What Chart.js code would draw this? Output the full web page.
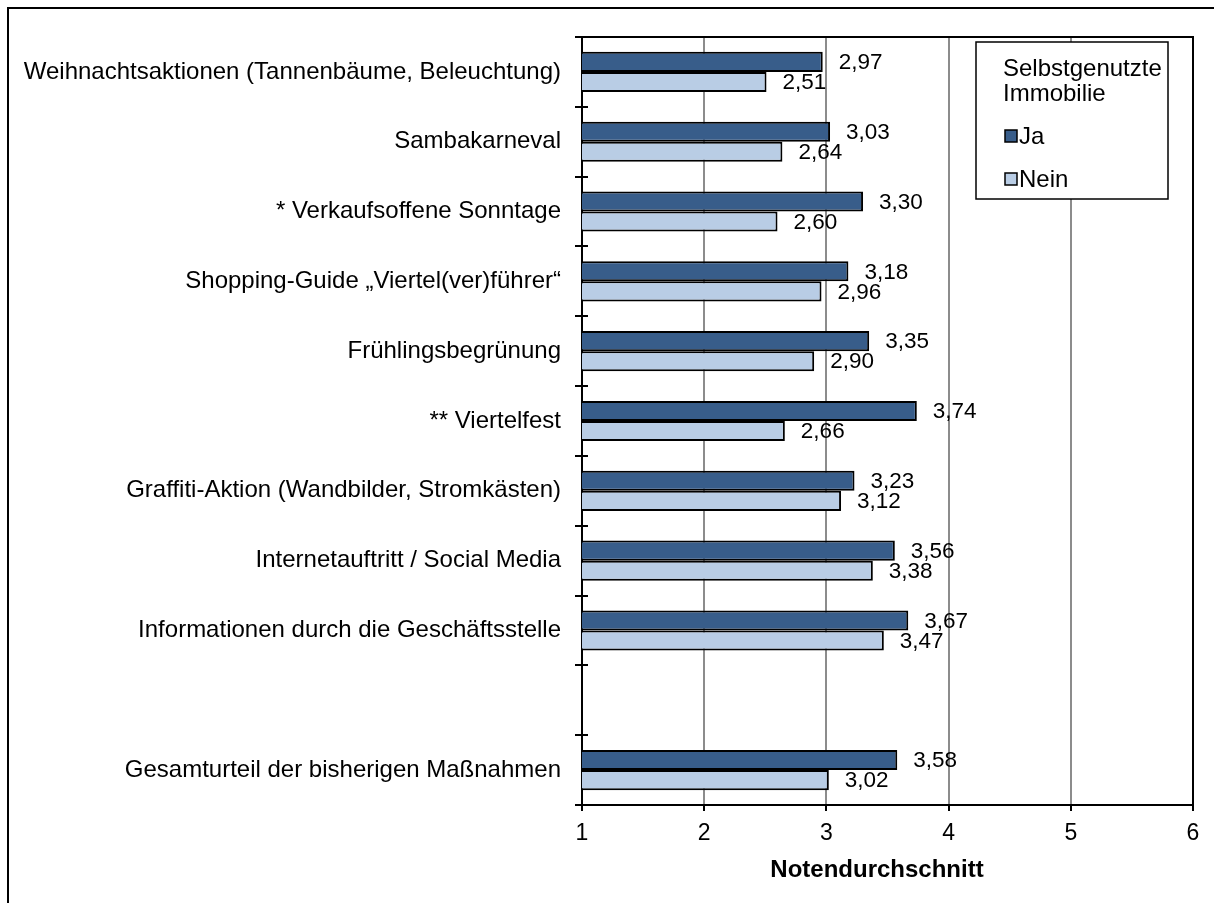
<!DOCTYPE html>
<html>
<head>
<meta charset="utf-8">
<script src="https://cdn.jsdelivr.net/npm/chart.js@4.4.1/dist/chart.umd.min.js"></script>
<style>
  html, body { margin: 0; padding: 0; background: #fff; }
  #wrap { position: relative; width: 1214px; height: 903px; }
  #frame { position: absolute; left: 7px; top: 7px; width: 1220px; height: 910px; border: 2px solid #000; box-sizing: border-box; pointer-events: none; }
  canvas { position: absolute; left: 0; top: 0; }
</style>
</head>
<body>
<div id="wrap">
  <canvas id="myChart" width="1214" height="903"></canvas>
  <div id="frame"></div>
</div>
<script>
// Kategorien (leerer Platz vor dem Gesamturteil)
const categories = [
    'Weihnachtsaktionen (Tannenbäume, Beleuchtung)',
    'Sambakarneval',
    '* Verkaufsoffene Sonntage',
    'Shopping-Guide \u201EViertel(ver)führer\u201C',
    'Frühlingsbegrünung',
    '** Viertelfest',
    'Graffiti-Aktion (Wandbilder, Stromkästen)',
    'Internetauftritt / Social Media',
    'Informationen durch die Geschäftsstelle',
    '',
    'Gesamturteil der bisherigen Maßnahmen'
];
const jaValues   = [2.97, 3.03, 3.30, 3.18, 3.35, 3.74, 3.23, 3.56, 3.67, null, 3.58];
const neinValues = [2.51, 2.64, 2.60, 2.96, 2.90, 2.66, 3.12, 3.38, 3.47, null, 3.02];
const xTicks = [1, 2, 3, 4, 5, 6];
const legendTitle = ['Selbstgenutzte', 'Immobilie'];
const xTitle = 'Notendurchschnitt';

const fontFamily = '"Liberation Sans", Arial, sans-serif';

// Werte rechts neben den Balken (mit Komma)
const valueLabels = {
    id: 'valueLabels',
    afterDatasetsDraw(chart) {
        const ctx = chart.ctx;
        ctx.save();
        ctx.font = '22.5px ' + fontFamily;
        ctx.fillStyle = '#000';
        ctx.textBaseline = 'middle';
        ctx.textAlign = 'left';
        chart.data.datasets.forEach((ds, i) => {
            chart.getDatasetMeta(i).data.forEach((bar, j) => {
                const v = ds.data[j];
                if (v == null) return;
                ctx.fillText(v.toFixed(2).replace('.', ','), bar.x + 16, bar.y + 1);
            });
        });
        ctx.restore();
    }
};

// Rahmen der Zeichenfläche, Achsentitel + Legende im Diagramm
const plotFrame = {
    id: 'plotFrame',
    afterDraw(chart) {
        const ctx = chart.ctx;
        const a = chart.chartArea;
        ctx.save();
        ctx.strokeStyle = '#000';
        ctx.lineWidth = 2;
        ctx.beginPath();
        ctx.moveTo(a.left, a.top);
        ctx.lineTo(a.right, a.top);
        ctx.lineTo(a.right, a.bottom);
        ctx.stroke();

        // kleine Striche der y-Achse ragen auch ins Diagramm
        const yScale = chart.scales.y;
        ctx.beginPath();
        for (let k = 0; k <= categories.length; k++) {
            const y = Math.round(yScale.top + k * (yScale.bottom - yScale.top) / categories.length);
            ctx.moveTo(a.left, y);
            ctx.lineTo(a.left + 6, y);
        }
        ctx.stroke();

        // Achsentitel
        ctx.fillStyle = '#000';
        ctx.font = 'bold 24px ' + fontFamily;
        ctx.textAlign = 'center';
        ctx.textBaseline = 'middle';
        ctx.fillText(xTitle, 877, 870);

        // Legende
        const lx = 976, ly = 42, lw = 192, lh = 157;
        ctx.fillStyle = '#fff';
        ctx.fillRect(lx, ly, lw, lh);
        ctx.lineWidth = 1.5;
        ctx.strokeRect(lx, ly, lw, lh);
        ctx.fillStyle = '#000';
        ctx.font = '24px ' + fontFamily;
        ctx.textAlign = 'left';
        ctx.fillText(legendTitle[0], lx + 27, ly + 27);
        ctx.fillText(legendTitle[1], lx + 27, ly + 52);
        const rows = [ly + 94, ly + 137];
        chart.data.datasets.forEach((ds, i) => {
            const y = rows[i];
            ctx.fillStyle = ds.backgroundColor;
            ctx.fillRect(lx + 29, y - 6, 12, 12);
            ctx.lineWidth = 1.5;
            ctx.strokeStyle = '#000';
            ctx.strokeRect(lx + 29, y - 6, 12, 12);
            ctx.fillStyle = '#000';
            ctx.fillText(ds.label, lx + 43, y + 1);
        });
        ctx.restore();
    }
};

const ctx = document.getElementById('myChart').getContext('2d');
const myChart = new Chart(ctx, {
    type: 'bar',
    data: {
        labels: categories,
        datasets: [{
            label: 'Ja',
            data: jaValues,
            backgroundColor: '#385D8A',
            borderColor: '#000',
            borderWidth: 2,
            categoryPercentage: 0.575,
            barPercentage: 1.0
        }, {
            label: 'Nein',
            data: neinValues,
            backgroundColor: '#B9CDE5',
            borderColor: '#000',
            borderWidth: 2,
            categoryPercentage: 0.575,
            barPercentage: 1.0
        }]
    },
    options: {
        indexAxis: 'y',
        responsive: false,
        animation: false,
        layout: { padding: { top: 37, right: 21, bottom: 18, left: 0 } },
        plugins: {
            legend: { display: false },
            tooltip: { enabled: false }
        },
        scales: {
            x: {
                min: 1,
                max: 6,
                afterBuildTicks(scale) {
                    scale.ticks = xTicks.map(v => ({ value: v }));
                },
                grid: {
                    color: (c) => (c.tick && (c.tick.value === 1 || c.tick.value === 6)) ? 'rgba(0,0,0,0)' : '#8c8c8c',
                    lineWidth: 2,
                    drawTicks: true,
                    tickLength: 6,
                    tickColor: '#000'
                },
                border: { display: true, color: '#000', width: 2 },
                ticks: {
                    color: '#000',
                    padding: 9,
                    font: { family: fontFamily, size: 23 }
                },
                afterFit(scale) { scale.height = 80; }
            },
            y: {
                grid: {
                    offset: true,
                    drawOnChartArea: false,
                    drawTicks: true,
                    tickLength: 7,
                    color: '#000',
                    lineWidth: 2
                },
                border: { display: true, color: '#000', width: 2 },
                ticks: {
                    color: '#000',
                    padding: 14,
                    font: { family: fontFamily, size: 24 }
                },
                afterFit(scale) { scale.width = 582; }
            }
        }
    },
    plugins: [valueLabels, plotFrame]
});
</script>
</body>
</html>
